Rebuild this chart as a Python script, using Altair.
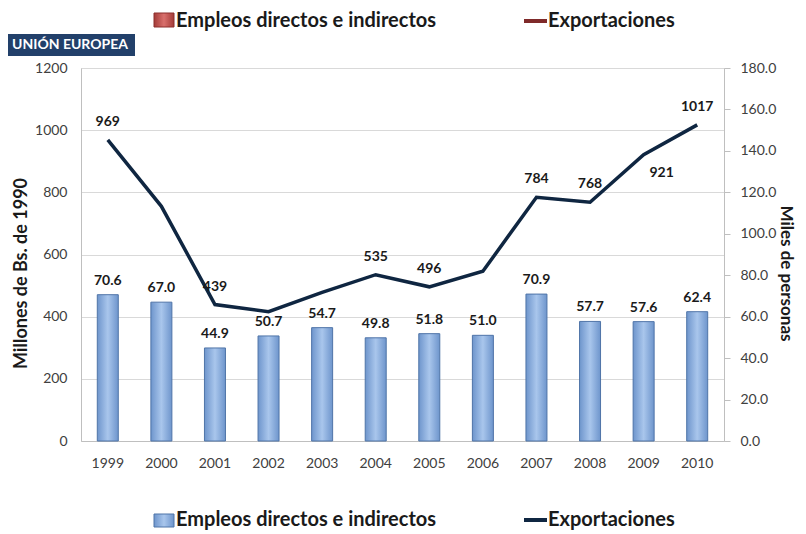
import altair as alt
import pandas as pd

years = ["1999", "2000", "2001", "2002", "2003", "2004", "2005", "2006", "2007", "2008", "2009", "2010"]
empleos = [70.6, 67.0, 44.9, 50.7, 54.7, 49.8, 51.8, 51.0, 70.9, 57.7, 57.6, 62.4]
exportaciones = [969, 755, 439, 416, 478, 535, 496, 546, 784, 768, 921, 1017]
export_label_years = ["1999", "2001", "2004", "2005", "2007", "2008", "2009", "2010"]
export_label_below = ["2009"]
legend_labels = ["Empleos directos e indirectos", "Exportaciones"]
region_title = "UNIÓN EUROPEA"
left_title = "Millones de Bs. de 1990"
right_title = "Miles de personas"
left_ticks = [0, 200, 400, 600, 800, 1000, 1200]
right_ticks = [0, 20, 40, 60, 80, 100, 120, 140, 160, 180]

df = pd.DataFrame({"year": years, "empleos": empleos, "export": exportaciones})
df["show"] = df["year"].isin(export_label_years)
df["below"] = df["year"].isin(export_label_below)
one = pd.DataFrame({"a": [0]})

FONT = "Lato"
GRAY = "#BFBFBF"
LBL = "#404040"
TXT = "#1a1a1a"

bar_grad = alt.LinearGradient(
    gradient="linear",
    stops=[alt.GradientStop(color="#6E95CC", offset=0),
           alt.GradientStop(color="#A9C6EC", offset=0.5),
           alt.GradientStop(color="#6E95CC", offset=1)],
    x1=0, x2=1, y1=0, y2=0)

x_enc = alt.X("year:N", sort=years,
              scale=alt.Scale(paddingInner=0, paddingOuter=0),
              axis=alt.Axis(title=None, labelAngle=0, ticks=False, labelPadding=15,
                            labelFontSize=14, labelColor=LBL, domainColor=GRAY))

y_bar = alt.Y("empleos:Q", scale=alt.Scale(domain=[0, 180], nice=False),
              axis=alt.Axis(orient="right", values=right_ticks, format=".1f", grid=False,
                            ticks=True, tickSize=6, tickColor=GRAY, domainColor=GRAY,
                            labelPadding=10, labelFontSize=14, labelColor=LBL,
                            title=right_title, titleAngle=90, titleFontSize=17,
                            titleFontWeight="bold", titleColor=TXT,
                            titleX=61, titleY=205, titleAlign="center", titleBaseline="middle"))

bars = alt.Chart(df).mark_bar(size=21, color=bar_grad, stroke="#4F74A8", strokeWidth=1).encode(
    x=x_enc, y=y_bar)
bar_text = alt.Chart(df).mark_text(baseline="bottom", dy=-7, fontSize=14, fontWeight="bold",
                                   color=TXT).encode(
    x=x_enc, y=y_bar, text=alt.Text("empleos:Q", format=".1f"))
bar_layer = alt.layer(bars, bar_text)

y_line = alt.Y("export:Q", scale=alt.Scale(domain=[0, 1200], nice=False),
               axis=alt.Axis(orient="left", values=left_ticks, format="d", grid=True,
                             gridColor="#D9D9D9",
                             ticks=False, domainColor=GRAY, labelPadding=14, labelFontSize=14,
                             labelColor=LBL, title=left_title, titleAngle=-90, titleFontSize=18,
                             titleFontWeight="bold", titleColor=TXT,
                             titleX=-60, titleY=205, titleAlign="center", titleBaseline="middle"))
line = alt.Chart(df).mark_line(color="#0F2641", strokeWidth=3.5).encode(x=x_enc, y=y_line)
line_text_above = alt.Chart(df).transform_filter("datum.show && !datum.below").mark_text(
    baseline="bottom", dy=-11, fontSize=14, fontWeight="bold", color=TXT).encode(
    x=x_enc, y=y_line, text="export:Q")
line_text_below = alt.Chart(df).transform_filter("datum.show && datum.below").mark_text(
    baseline="top", dy=11, dx=18, fontSize=14, fontWeight="bold", color=TXT).encode(
    x=x_enc, y=y_line, text="export:Q")
line_layer = alt.layer(line, line_text_above, line_text_below)


def rect(x1, x2, y1, y2, fill, stroke=None):
    kw = dict(color=fill)
    if stroke:
        kw.update(stroke=stroke, strokeWidth=1)
    return alt.Chart(one).mark_rect(**kw).encode(
        x=alt.value(x1), x2=alt.value(x2), y=alt.value(y1), y2=alt.value(y2))


def hline(x1, x2, y, color):
    return alt.Chart(one).mark_rule(color=color, strokeWidth=4).encode(
        x=alt.value(x1), x2=alt.value(x2), y=alt.value(y))


def label(txt, xx, yy, size=20, color=TXT, align="left"):
    return alt.Chart(pd.DataFrame({"t": [txt]})).mark_text(
        align=align, baseline="middle", fontSize=size, fontWeight="bold", color=color).encode(
        x=alt.value(xx), y=alt.value(yy), text="t:N")


red_grad = alt.LinearGradient(
    gradient="linear",
    stops=[alt.GradientStop(color="#A33B38", offset=0),
           alt.GradientStop(color="#D9706D", offset=0.5),
           alt.GradientStop(color="#A33B38", offset=1)],
    x1=0, x2=1, y1=0, y2=0)

decor = [
    rect(73, 93, -55, -41, red_grad, "#8C2F2C"),
    label(legend_labels[0], 95, -47),
    hline(443, 466, -47, "#7F2A2A"),
    label(legend_labels[1], 467, -47),
    rect(-76, 54, -34, -12, "#22406A"),
    label(region_title, -11, -23, size=14, color="white", align="center"),
    rect(73, 93, 446, 459, bar_grad, "#4F74A8"),
    label(legend_labels[0], 95, 452),
    hline(443, 466, 452, "#0F2641"),
    label(legend_labels[1], 467, 452),
]

chart = alt.layer(bar_layer, line_layer, *decor).resolve_scale(y="independent").properties(
    width=643, height=373,
    autosize=alt.AutoSizeParams(type="none"),
    padding={"left": 73, "top": 60, "right": 74, "bottom": 90},
).configure_view(stroke=None).configure(font=FONT)

chart.save("out.html", embed_options={"renderer": "svg", "actions": False})
